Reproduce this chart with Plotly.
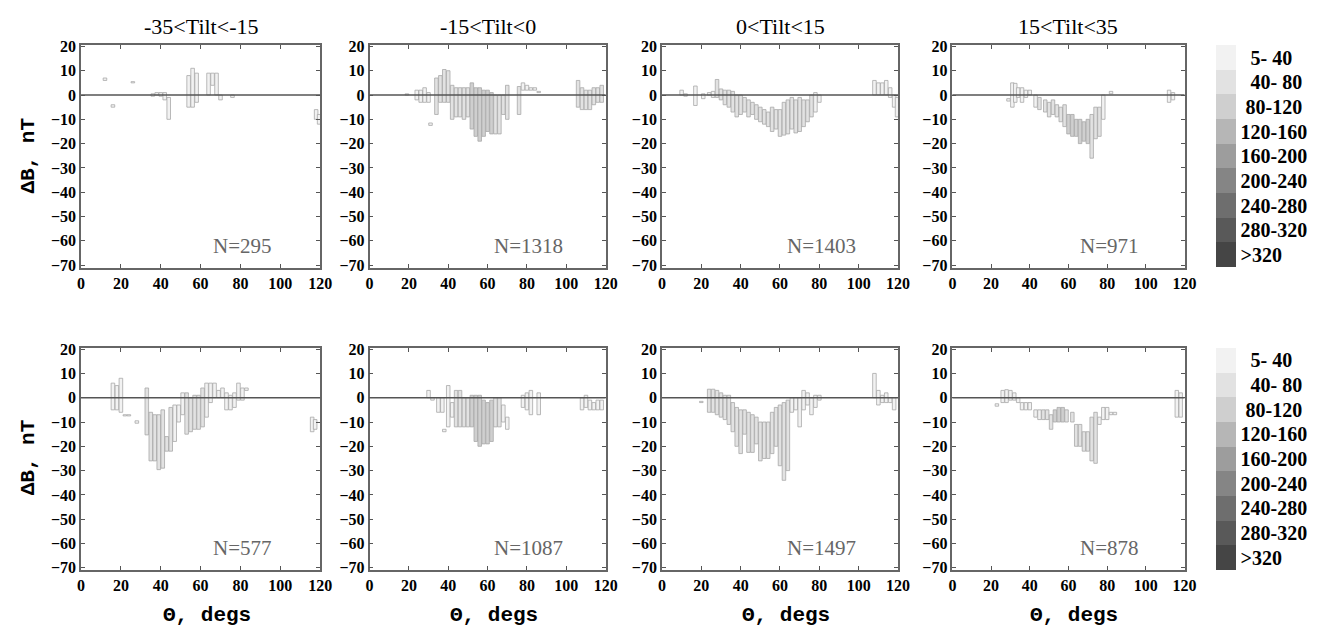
import plotly.graph_objects as go
from plotly.subplots import make_subplots

# ---------------- data ----------------
panel_titles = ["-35&lt;Tilt&lt;-15", "-15&lt;Tilt&lt;0", "0&lt;Tilt&lt;15", "15&lt;Tilt&lt;35"]
n_top = ["N=295", "N=1318", "N=1403", "N=971"]
n_bot = ["N=577", "N=1087", "N=1497", "N=878"]
level_labels = ["&nbsp;&nbsp;5- 40", "&nbsp;&nbsp;40- 80", "&nbsp;80-120", "120-160", "160-200",
                "200-240", "240-280", "280-320", "&gt;320"]
level_colors = ["#f2f2f2", "#e2e2e2", "#cfcfcf", "#b6b6b6", "#9d9d9d",
                "#858585", "#6e6e6e", "#595959", "#454545"]
x_ticks = [0, 20, 40, 60, 80, 100, 120]
y_ticks = [20, 10, 0, -10, -20, -30, -40, -50, -60, -70]

# top row, panel 1
th_t1 = [12, 16, 26, 36, 38, 40, 42, 44, 54, 56, 58, 64, 66, 68, 70, 76, 118, 119.5]
lo_t1 = [6, -5, 5, -0.5, 0, -0.5, -2, -10, -5, -5, -3, 0, 4, 0, -2, -1, -10, -12]
hi_t1 = [7, -4, 5.5, 0.5, 1, 1, 1, -1, 8, 11, 9, 9, 9, 9, 0, 0, -6, -8]
lv_t1 = [0] * 18

# top row, panel 2
th_t2 = [19, 24, 26, 28, 30, 31, 34, 36, 38, 40, 42, 44, 46, 48, 50, 52, 54, 56, 58, 60,
         62, 64, 66, 68, 70, 76, 78, 80, 82, 84, 86, 106, 108, 110, 112, 114, 116, 118]
lo_t2 = [0, -2, -3, -3, -3, -12.5, -8, -3, -3, -3, -10, -9, -9, -10, -9, -14, -17, -19, -17, -15,
         -16, -16, -16, -8, -10, -8, 2, 2, 2, 2, 1, -5, -6, -6, -6, -4, -3, -3]
hi_t2 = [0.5, 2, 2, 3, 1, -11.5, 7, 8, 10.5, 10, 4, 3, 3, 3, 3, 5, 3, 3, 2, 2,
         1, 0, 0, 0, 4, 3.5, 5, 4, 3, 3, 1.5, 6, 3, 2, 2, 3, 3, 4]
lv_t2 = [0, 0, 0, 0, 0, 0, 1, 1, 1, 1, 1, 1, 1, 1, 1, 2, 2, 2, 2, 2,
         2, 1, 1, 1, 1, 1, 0, 0, 0, 0, 0, 1, 1, 1, 1, 1, 1, 1]

# top row, panel 3
th_t3 = [10, 12, 17, 21, 24, 26, 28, 30, 32, 34, 36, 38, 40, 42, 44, 46, 48, 50, 52, 54,
         56, 58, 60, 62, 64, 66, 68, 70, 72, 74, 76, 78, 80, 108, 110, 112, 114, 116, 118, 119.5]
lo_t3 = [0, -0.5, -4.3, -1.5, 0, -1, -1, -2, -4, -5, -7, -9, -8, -7, -9, -8, -10, -11, -12, -13,
         -15, -14, -17, -16.5, -16, -14, -15.6, -15, -13, -11, -9, -7, -3, 0, 0, 0, 0, -1, -5, -9]
hi_t3 = [2, 0.5, 3.7, 0.5, 1, 1.5, 6.4, 2.5, 2, 2, 1.5, 0, 0, -1, -2, -3, -4, -5, -6, -7,
         -5, -6, -6, -3, -2, -1, -2, -1, -2, -2, 0, 1, 0, 6, 5, 5, 6, 3, 0, -1]
lv_t3 = [0, 0, 0, 0, 0, 0, 1, 1, 1, 1, 1, 1, 1, 1, 1, 1, 1, 1, 1, 1,
         1, 1, 1, 1, 1, 1, 1, 1, 1, 1, 1, 0, 0, 0, 0, 0, 0, 0, 0, 0]

# top row, panel 4
th_t4 = [29, 31, 32.5, 34, 36, 38, 40, 43, 45, 48, 50, 52, 54, 56, 58, 60, 62, 64, 66, 68,
         70, 72, 74, 76, 78, 82, 112, 114]
lo_t4 = [-2.5, -5, -3, -1, -3, -1, 0, -5, -6, -7, -9, -8, -9, -11, -13, -16, -17, -17, -20, -19,
         -20, -26, -18, -17, -10, 0.5, -3, -2]
hi_t4 = [-1.5, 5, 4.8, 3, 3, 2, 2, 0, -1, -2, -3, -2, -4, -5, -4, -8, -8, -10, -10, -11,
         -10, -8, -5, -5, 0, 1.5, 2, 1]
lv_t4 = [0, 0, 0, 0, 0, 0, 0, 0, 1, 1, 1, 1, 1, 1, 1, 2, 2, 2, 2, 2,
         2, 1, 1, 1, 0, 0, 0, 0]

# bottom row, panel 1
th_b1 = [16, 18, 20, 22, 24, 28, 33, 35, 37, 39, 41, 43, 45, 47, 49, 51, 53, 55, 57, 59,
         61, 63, 65, 67, 69, 71, 73, 75, 77, 79, 81, 83, 116, 117.5]
lo_b1 = [-5, -5, -6, -7.5, -7.5, -10.5, -15.3, -26, -26, -29.6, -29, -22, -22, -18, -10, -7, -15, -14, -13, -13,
         -12, -8, -2, 0, 0, 0, -5, -5, -4, -1, -1, 3, -14, -13]
hi_b1 = [6, 5, 8, -7, -7, -9.5, 4, -6, -7, -7, -5, -16, -4, -3, -3, 2, 2, 0, 1, 1,
         4, 6, 6, 6, 3, 4, 2, 1, 2, 6, 4, 4, -8, -9]
lv_b1 = [0, 0, 0, 0, 0, 0, 1, 1, 1, 1, 1, 1, 1, 0, 0, 0, 1, 1, 1, 1,
         1, 0, 0, 0, 0, 0, 0, 0, 0, 0, 0, 0, 0, 0]

# bottom row, panel 2
th_b2 = [30, 32, 35, 37, 38, 40, 42, 44, 46, 48, 50, 52, 54, 56, 58, 60, 62, 64, 66, 68,
         70, 78, 80, 82, 86, 108, 110, 112, 114, 116, 118]
lo_b2 = [0, -1, -6, -6, -14, -12, -8, -12, -12, -12, -12, -12, -18, -20, -19, -19, -18, -12, -12, -10,
         -13, -4, -5, -7, -7, -5, -4, -5, -5, -5, -5]
hi_b2 = [3, 0, 0, 0, -13, 5, -2, 3, 3, 0, 0, 1, 1, 1, -1, -2, -1, 0, 0, -3,
         -8, 1, 2, 3, 2, 0, 1, -1, -2, -1, -1]
lv_b2 = [0, 0, 0, 0, 0, 0, 0, 1, 1, 1, 1, 2, 2, 2, 2, 2, 2, 1, 1, 0,
         0, 0, 0, 0, 0, 0, 0, 0, 0, 0, 0]

# bottom row, panel 3
th_b3 = [20, 24, 26, 28, 30, 32, 34, 36, 38, 40, 42, 44, 46, 48, 50, 52, 54, 56, 58, 60,
         62, 64, 66, 68, 70, 72, 74, 76, 78, 80, 108, 110, 112, 114, 116, 118]
lo_b3 = [-2, -6, -6, -7, -8, -9, -11, -14, -20, -23, -15, -22.5, -22.5, -19, -26, -25, -25, -23, -20, -28,
         -34, -30, -6, -5, -12, -5, -3, -7, -4, -1, 0, -3, -2, -2, -2, -5]
hi_b3 = [-1.5, 3.5, 3.5, 3, 2, 1, 1, -2, -4, -5, -5, -6, -7, -8, -10, -10, -10, -6, -4, -3,
         -2, -1, 0, 0, 0, 3, 2, 0, 1, 1, 10, 3, 1, 2, 0, 0]
lv_b3 = [0, 1, 1, 1, 1, 1, 1, 1, 1, 1, 1, 1, 1, 1, 1, 1, 1, 1, 1, 1,
         1, 1, 0, 0, 0, 0, 0, 0, 0, 0, 0, 0, 0, 0, 0, 0]

# bottom row, panel 4
th_b4 = [23, 26, 28, 30, 32, 34, 36, 38, 40, 43, 45, 47, 49, 51, 53, 55, 57, 59, 62, 64,
         66, 68, 70, 72, 74, 76, 78, 80, 82, 84, 116, 118]
lo_b4 = [-3.5, -2, -2, -1, -1, -2, -5, -5, -5, -8, -9, -9, -9, -13, -10, -10, -10, -10, -10, -20,
         -20, -22, -22, -26, -27, -11, -9, -9, -7, -7, -8, -8]
hi_b4 = [-2.5, 3, 3.3, 3, 2, 0, -2, -2, -2, -5, -5, -5, -5, -7, -5, -4, -4, -5, -6, -11,
         -11, -14, -14, -8, -6, -8, -4, -4, -6, -6, 3, 2]
lv_b4 = [0, 0, 0, 0, 0, 0, 0, 0, 0, 0, 0, 1, 1, 1, 2, 2, 2, 1, 1, 1,
         1, 1, 1, 1, 1, 0, 0, 0, 0, 0, 0, 0]

top_rows = [(th_t1, lo_t1, hi_t1, lv_t1), (th_t2, lo_t2, hi_t2, lv_t2),
            (th_t3, lo_t3, hi_t3, lv_t3), (th_t4, lo_t4, hi_t4, lv_t4)]
bot_rows = [(th_b1, lo_b1, hi_b1, lv_b1), (th_b2, lo_b2, hi_b2, lv_b2),
            (th_b3, lo_b3, hi_b3, lv_b3), (th_b4, lo_b4, hi_b4, lv_b4)]

# ---------------- layout geometry (pixels) ----------------
W, H = 1323, 636
col_px = [(78, 320), (370, 609), (666, 905), (960, 1195)]
row_px = [(39, 266), (348, 575)]

def xdom(c):
    return [col_px[c][0] / W, col_px[c][1] / W]

def ydom(r):
    return [1 - row_px[r][1] / H, 1 - row_px[r][0] / H]

fig = make_subplots(rows=2, cols=4, horizontal_spacing=0.02, vertical_spacing=0.05)

serif = "Liberation Serif, Times New Roman, serif"
mono = "Liberation Mono, Courier New, monospace"

for r, rows in enumerate([top_rows, bot_rows]):
    for c, (th, lo, hi, lv) in enumerate(rows):
        fig.add_trace(go.Bar(
            x=th, y=[h - l for h, l in zip(hi, lo)], base=lo, width=1.8,
            marker=dict(color=[level_colors[v] for v in lv],
                        line=dict(color="#a8a8a8", width=0.8)),
            showlegend=False, hoverinfo="skip"), row=r + 1, col=c + 1)

# axes styling
for r in range(2):
    for c in range(4):
        idx = r * 4 + c + 1
        xa = "xaxis" if idx == 1 else f"xaxis{idx}"
        ya = "yaxis" if idx == 1 else f"yaxis{idx}"
        fig.layout[xa].update(
            domain=xdom(c), range=[0, 120], tickvals=x_ticks, ticks="inside", ticklen=4,
            tickcolor="#555", mirror="ticks", showline=True, linecolor="#666", linewidth=1.5,
            showgrid=False, zeroline=False,
            tickfont=dict(family=serif, size=16, color="black", weight="bold"))
        fig.layout[ya].update(
            domain=ydom(r), range=[-71, 20.5], tickvals=y_ticks, ticks="inside", ticklen=4,
            tickcolor="#555", mirror="ticks", showline=True, linecolor="#666", linewidth=1.5,
            showgrid=False, zeroline=False,
            tickfont=dict(family=serif, size=16, color="black", weight="bold"))
        xr = "x" if idx == 1 else f"x{idx}"
        yr = "y" if idx == 1 else f"y{idx}"
        # zero reference line
        fig.add_shape(type="line", xref=f"{xr} domain", yref=yr, x0=0, x1=1, y0=0, y1=0,
                      line=dict(color="#555", width=1.6), layer="above")
        # sample size
        ntext = (n_top if r == 0 else n_bot)[c]
        fig.add_annotation(xref=xr, yref=yr, x=81, y=-62, text=ntext, showarrow=False,
                           xanchor="center", yanchor="middle",
                           font=dict(family=serif, size=21, color="#666"))

# column titles and x-axis titles
for c in range(4):
    cx = (col_px[c][0] + col_px[c][1]) / 2 / W
    fig.add_annotation(xref="paper", yref="paper", x=cx, y=1 - 20 / H, text=panel_titles[c],
                       showarrow=False, xanchor="center", yanchor="middle",
                       font=dict(family=serif, size=22, color="black"))
    fig.add_annotation(xref="paper", yref="paper", x=cx + 6 / W, y=1 - 621 / H, text="Θ, degs",
                       showarrow=False, xanchor="center", yanchor="middle",
                       font=dict(family=mono, size=21, color="black", weight="bold"))

# y-axis titles
for yc in [152, 460]:
    fig.add_annotation(xref="paper", yref="paper", x=25 / W, y=1 - yc / H, text="ΔB, nT",
                       textangle=-90, showarrow=False, xanchor="center", yanchor="middle",
                       font=dict(family=mono, size=21, color="black", weight="bold"))

# discrete colour bars
n_lv = len(level_colors)
cscale = []
for i, col in enumerate(reversed(level_colors)):
    cscale.append([i / n_lv, col])
    cscale.append([(i + 1) / n_lv, col])
tickvals = [n_lv - 0.5 - i for i in range(n_lv)]

for r in [0, 1]:
    y0, y1 = row_px[r]
    fig.add_trace(go.Scatter(
        x=[-100], y=[-100], mode="markers", showlegend=False, hoverinfo="skip",
        marker=dict(color=[0], cmin=0, cmax=n_lv, colorscale=cscale, showscale=True, size=1,
                    colorbar=dict(x=1227 / W, xanchor="left", xpad=0, thickness=20,
                                  thicknessmode="pixels", len=(y1 - y0) / H, lenmode="fraction",
                                  y=1 - (y0 + y1) / 2 / H, yanchor="middle", ypad=0,
                                  outlinewidth=0, ticks="", tickvals=tickvals,
                                  ticktext=level_labels,
                                  tickfont=dict(family=serif, size=20, color="black",
                                                weight="bold"))),
    ), row=r + 1, col=1)

fig.update_layout(width=W, height=H, margin=dict(l=0, r=0, t=0, b=0),
                  paper_bgcolor="white", plot_bgcolor="white", barmode="overlay")

fig.write_html("out.html")
